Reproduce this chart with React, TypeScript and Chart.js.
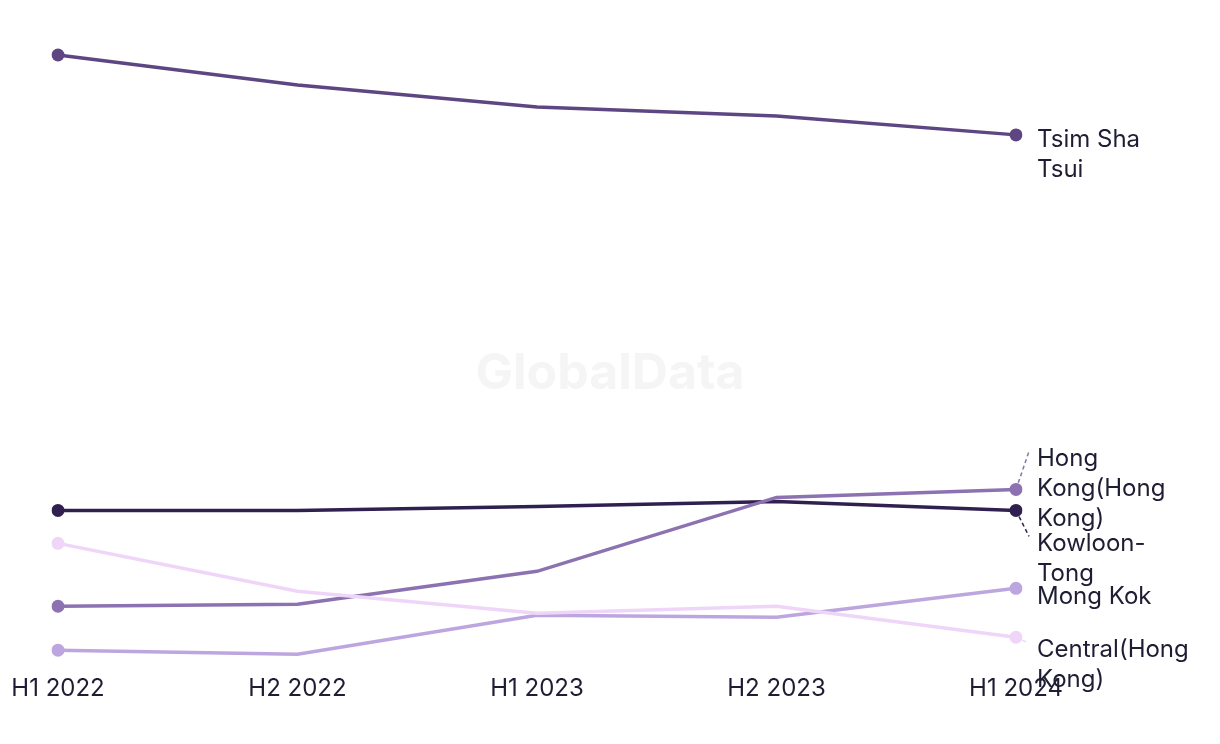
import React, { useEffect, useRef } from "react";
import { Chart, registerables } from "chart.js";

Chart.register(...registerables);

const categories = ["H1 2022", "H2 2022", "H1 2023", "H2 2023", "H1 2024"];
const seriesNames = ["Tsim Sha Tsui", "Kowloon-Tong", "Hong Kong(Hong Kong)", "Central(Hong Kong)", "Mong Kok"];
const labelLines = [["Tsim Sha", "Tsui"], ["Kowloon-", "Tong"], ["Hong", "Kong(Hong", "Kong)"], ["Central(Hong", "Kong)"], ["Mong Kok"]];
const tsimShaTsui = [64.6, 61.6, 59.4, 58.5, 56.6];
const kowloonTong = [19.0, 19.0, 19.4, 19.9, 19.0];
const hongKong = [9.4, 9.6, 12.9, 20.3, 21.1];
const central = [15.7, 10.9, 8.7, 9.4, 6.3];
const mongKok = [5.0, 4.6, 8.5, 8.3, 11.2];
const seriesValues = [tsimShaTsui, kowloonTong, hongKong, central, mongKok];

const colors = ["#5d4682", "#30204f", "#8c72b0", "#efd6f8", "#bda6e0"];
// vertical offset (px) of the label's first line centre relative to the end point
const labelOffsets = [5, 33, -31, 13, 8];
const drawOrder = [3, 4, 2, 1, 0];

const FONT = "Inter, 'Noto Sans', sans-serif";
const TEXT = "#1e1d33";

const endLabels = {
  id: "endLabels",
  beforeDatasetsDraw(chart: any) {
    const ctx = chart.ctx;
    ctx.save();
    // watermark
    ctx.font = `bold 50px ${FONT}`;
    ctx.fillStyle = "#f5f5f5";
    ctx.textAlign = "center";
    ctx.textBaseline = "middle";
    ctx.fillText("GlobalData", 602, 366);
    // leaders
    chart.data.datasets.forEach((ds: any, i: number) => {
      const meta = chart.getDatasetMeta(i);
      const p = meta.data[meta.data.length - 1];
      const si = ds.seriesIndex;
      const off = labelOffsets[si];
      if (Math.abs(off) < 10) return;
      ctx.setLineDash([4, 3]);
      ctx.lineWidth = 1.5;
      ctx.strokeStyle = colors[si];
      ctx.beginPath();
      ctx.moveTo(p.x, p.y);
      ctx.lineTo(p.x + 13, p.y + off - 7);
      ctx.stroke();
    });
    ctx.restore();
  },
  afterDatasetsDraw(chart: any) {
    const ctx = chart.ctx;
    ctx.save();
    ctx.font = `24px ${FONT}`;
    ctx.fillStyle = TEXT;
    ctx.textAlign = "left";
    ctx.textBaseline = "middle";
    chart.data.datasets.forEach((ds: any, i: number) => {
      const meta = chart.getDatasetMeta(i);
      const p = meta.data[meta.data.length - 1];
      const si = ds.seriesIndex;
      labelLines[si].forEach((line, k) => {
        ctx.fillText(line, p.x + 21, p.y + labelOffsets[si] + k * 30);
      });
    });
    ctx.restore();
  },
};

export default function App() {
  const ref = useRef<HTMLCanvasElement>(null);
  useEffect(() => {
    if (!ref.current) return;
    const chart = new Chart(ref.current, {
      type: "line",
      data: {
        labels: categories,
        datasets: drawOrder.map((si) => ({
          label: seriesNames[si],
          seriesIndex: si,
          data: seriesValues[si],
          borderColor: colors[si],
          backgroundColor: colors[si],
          borderWidth: 3.5,
          pointRadius: (c: any) => (c.dataIndex === 0 || c.dataIndex === categories.length - 1 ? 6.5 : 0),
          pointHoverRadius: 6.5,
          pointBorderWidth: 0,
          tension: 0,
        })) as any,
      },
      options: {
        animation: false,
        responsive: false,
        layout: { padding: { top: 33, left: 50, right: 196, bottom: 19 } },
        plugins: { legend: { display: false }, tooltip: { enabled: false } },
        scales: {
          x: {
            offset: false,
            grid: { display: false, drawTicks: false },
            border: { display: false },
            ticks: { padding: 14, color: TEXT, font: { family: FONT, size: 24 }, maxRotation: 0 },
            afterFit: (scale: any) => {
              scale.paddingLeft = 0;
              scale.paddingRight = 0;
            },
          },
          y: { display: false, min: 4, max: 66 },
        },
      },
      plugins: [endLabels],
    });
    return () => chart.destroy();
  }, []);
  return <canvas ref={ref} width={1204} height={728} />;
}
